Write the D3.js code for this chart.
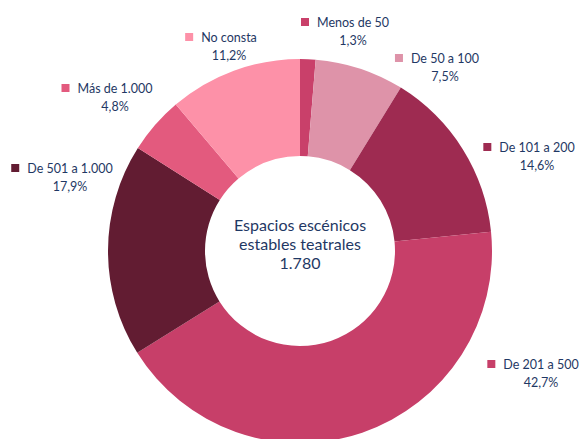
<!DOCTYPE html>
<html>
<head>
<meta charset="utf-8">
<script src="https://cdn.jsdelivr.net/npm/d3@7"></script>
<style>
  body { margin: 0; background: #fff; }
  svg { display: block; font-family: Lato, "Open Sans", sans-serif; }
</style>
</head>
<body>
<div id="chart"></div>
<script>
// Chart data
const categories = ["Menos de 50", "De 50 a 100", "De 101 a 200", "De 201 a 500", "De 501 a 1.000", "Más de 1.000", "No consta"];
const shares = [1.3, 7.5, 14.6, 42.7, 17.9, 4.8, 11.2];
const colors = ["#C9406A", "#DE93A9", "#9E2B51", "#C73F69", "#621C32", "#E35A7E", "#FD91A8"];
const centerLines = ["Espacios escénicos", "estables teatrales", "1.780"];

// Label anchors (centre of the category text), layout only
const labelPos = [[353, 22], [445, 58], [537, 147], [541, 364], [70, 168], [115, 88], [229, 37]];

const width = 582, height = 439;
const cx = 300, cy = 251;
const outerR = 192, innerR = 95;
const textColor = "#1F3864";

const data = categories.map((c, i) => ({name: c, value: shares[i], color: colors[i]}));

const svg = d3.select("#chart")
    .append("svg")
    .attr("width", width)
    .attr("height", height);

const pie = d3.pie().value(d => d.value).sort(null);
const arc = d3.arc().innerRadius(innerR).outerRadius(outerR);

const g = svg.append("g").attr("transform", `translate(${cx},${cy})`);

g.selectAll("path")
    .data(pie(data))
    .enter()
    .append("path")
    .attr("d", arc)
    .attr("fill", d => d.data.color);

// Centre text
g.selectAll("text.center")
    .data(centerLines)
    .enter()
    .append("text")
    .attr("class", "center")
    .attr("text-anchor", "middle")
    .attr("y", (d, i) => -20 + i * 19)
    .attr("fill", textColor)
    .style("font-size", "16px")
    .text(d => d);

// Labels
const fmt = v => v.toFixed(1).replace(".", ",") + "%";
data.forEach((d, i) => {
    const [lx, ly] = labelPos[i];
    const lg = svg.append("g").attr("transform", `translate(${lx},${ly})`);
    const t = lg.append("text")
        .attr("y", 4.5)
        .attr("text-anchor", "middle")
        .attr("fill", textColor)
        .style("font-size", "12.5px")
        .text(d.name);
    const w = t.node().getComputedTextLength();
    lg.append("rect")
        .attr("x", -w / 2 - 16)
        .attr("y", -4)
        .attr("width", 8)
        .attr("height", 8)
        .attr("fill", d.color);
    lg.append("text")
        .attr("y", 22.5)
        .attr("text-anchor", "middle")
        .attr("fill", textColor)
        .style("font-size", "12.5px")
        .text(fmt(d.value));
});
</script>
</body>
</html>
